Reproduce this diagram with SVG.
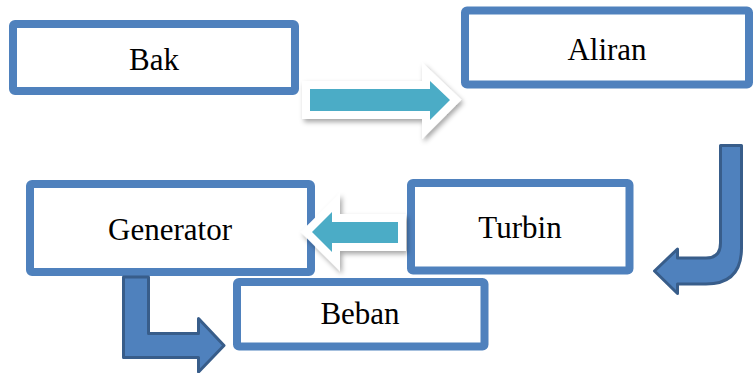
<svg xmlns="http://www.w3.org/2000/svg" width="756" height="373" viewBox="0 0 756 373">
<defs>
<style>
.box{fill:#fff;stroke:#4F81BD;stroke-width:8;}
.lbl{font-family:"Liberation Serif","Times New Roman",serif;font-size:31px;fill:#000;text-anchor:middle;}
.teal{fill:#4BACC6;stroke:#fff;stroke-width:16;stroke-linejoin:miter;stroke-miterlimit:10;paint-order:stroke;}
.bent{fill:#4F81BD;stroke:#385D8A;stroke-width:3;stroke-linejoin:round;}
</style>
<filter id="sh" filterUnits="userSpaceOnUse" x="0" y="0" width="756" height="373">
<feDropShadow dx="2" dy="3" stdDeviation="2.5" flood-color="#000" flood-opacity="0.35"/>
</filter>
</defs>
<rect width="756" height="373" fill="#fff"/>
<g id="node-bak"><rect class="box" x="13" y="24" width="282" height="67" rx="2"/><text class="lbl" x="154" y="70">Bak</text></g>
<g id="node-aliran"><rect class="box" x="465" y="10.5" width="284" height="74" rx="2"/><text class="lbl" x="607" y="60">Aliran</text></g>
<g id="node-generator"><rect class="box" x="30" y="184" width="281" height="88" rx="2"/><text class="lbl" x="170" y="240">Generator</text></g>
<g id="node-turbin"><rect class="box" x="411" y="183" width="218.5" height="87.5" rx="2"/><text class="lbl" x="520" y="238">Turbin</text></g>
<g id="node-beban"><rect class="box" x="237" y="282" width="247.5" height="64.5" rx="2"/><text class="lbl" x="360" y="324">Beban</text></g>
<g id="connectors">
<path class="teal" filter="url(#sh)" d="M310,89 L430,89 L430,81 L450,100 L430,120 L430,111 L310,111 Z"/>
<path class="teal" filter="url(#sh)" d="M398,222 L332,222 L332,212 L312,232 L332,252 L332,243 L398,243 Z"/>
<path class="bent" d="M720.5,145.5 L741.5,145.5 L741.5,248 Q741.5,284 706,284 L677.5,284 L677.5,293.5 L654.5,271 L677.5,249 L677.5,258 L706,258 Q720.5,258 720.5,243 Z"/>
<path class="bent" stroke-linejoin="miter" d="M123.5,277 L148.5,277 L148.5,333.5 L198.5,333.5 L198.5,318.5 L224,345.5 L198.5,372 L198.5,357.5 L123.5,357.5 Z"/>
</g>
</svg>
